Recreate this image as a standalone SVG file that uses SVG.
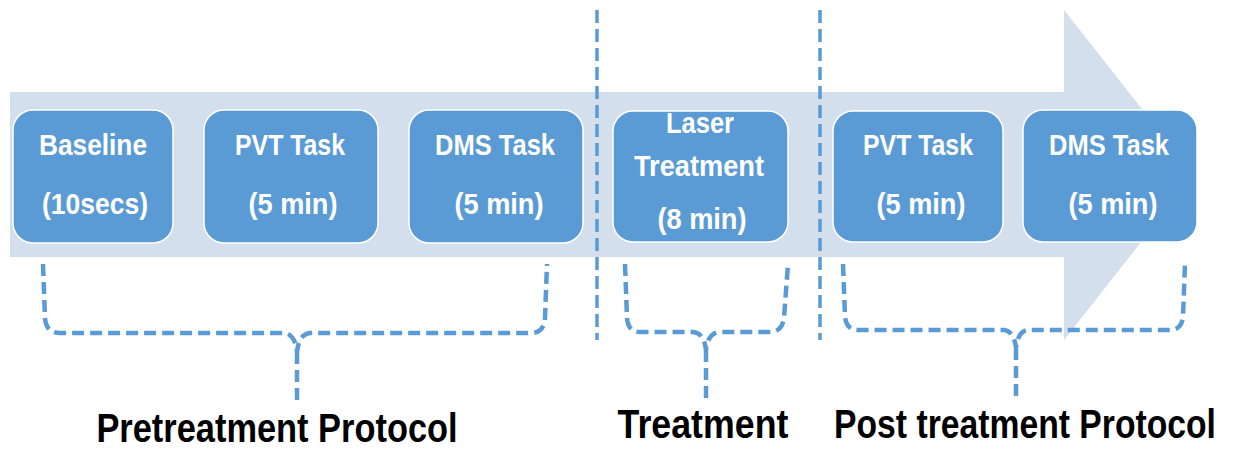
<svg xmlns="http://www.w3.org/2000/svg" width="1234" height="451" viewBox="0 0 1234 451">
  <style>
    .band { fill: #d4dfee; }
    .box { fill: #5b9bd5; stroke: #ffffff; stroke-width: 1.5; }
    .boxtxt { font-family: "Liberation Sans", Arial, sans-serif; font-weight: bold; font-size: 29px; fill: #ffffff; text-anchor: middle; }
    .label { font-family: "Liberation Sans", Arial, sans-serif; font-weight: bold; font-size: 40px; fill: #000000; text-anchor: middle; }
    .divider { fill: none; stroke: #5b9bd5; stroke-width: 3.5; stroke-dasharray: 13 6; }
    .brace { fill: none; stroke: #5b9bd5; stroke-width: 4.5; stroke-dasharray: 12 6; stroke-linejoin: round; }
  </style>

  <!-- timeline arrow -->
  <g id="timeline">
    <rect class="band" x="10" y="92" width="1055" height="165"/>
    <polygon class="band" points="1064,10 1194,175 1064,340"/>
  </g>

  <!-- phase dividers -->
  <g id="dividers">
    <line class="divider" x1="597" y1="10" x2="597" y2="340"/>
    <line class="divider" x1="820" y1="10" x2="820" y2="340"/>
  </g>

  <g id="baseline">
    <rect class="box" x="13" y="110" width="160" height="133" rx="20"/>
    <text class="boxtxt" x="93" y="155" textLength="108" lengthAdjust="spacingAndGlyphs">Baseline</text>
    <text class="boxtxt" x="95" y="214" textLength="106" lengthAdjust="spacingAndGlyphs">(10secs)</text>
  </g>

  <g id="pvt-pre">
    <rect class="box" x="204" y="110" width="174" height="133" rx="20"/>
    <text class="boxtxt" x="290" y="155" textLength="110" lengthAdjust="spacingAndGlyphs">PVT Task</text>
    <text class="boxtxt" x="293" y="214" textLength="89" lengthAdjust="spacingAndGlyphs">(5 min)</text>
  </g>

  <g id="dms-pre">
    <rect class="box" x="409" y="110" width="174" height="133" rx="20"/>
    <text class="boxtxt" x="495" y="155" textLength="120" lengthAdjust="spacingAndGlyphs">DMS Task</text>
    <text class="boxtxt" x="499" y="214" textLength="89" lengthAdjust="spacingAndGlyphs">(5 min)</text>
  </g>

  <g id="laser">
    <rect class="box" x="613" y="111" width="175" height="131" rx="20"/>
    <text class="boxtxt" x="700" y="133" textLength="68" lengthAdjust="spacingAndGlyphs">Laser</text>
    <text class="boxtxt" x="699" y="176" textLength="130" lengthAdjust="spacingAndGlyphs">Treatment</text>
    <text class="boxtxt" x="702" y="229" textLength="89" lengthAdjust="spacingAndGlyphs">(8 min)</text>
  </g>

  <g id="pvt-post">
    <rect class="box" x="833" y="111" width="170" height="131" rx="20"/>
    <text class="boxtxt" x="918" y="155" textLength="110" lengthAdjust="spacingAndGlyphs">PVT Task</text>
    <text class="boxtxt" x="921" y="214" textLength="89" lengthAdjust="spacingAndGlyphs">(5 min)</text>
  </g>

  <g id="dms-post">
    <rect class="box" x="1023" y="110" width="174" height="132" rx="20"/>
    <text class="boxtxt" x="1109" y="155" textLength="120" lengthAdjust="spacingAndGlyphs">DMS Task</text>
    <text class="boxtxt" x="1113" y="214" textLength="89" lengthAdjust="spacingAndGlyphs">(5 min)</text>
  </g>

  <!-- grouping braces -->
  <g id="connectors">
    <path class="brace" d="M43,264 L45,318 Q46,333 60,333 L284,333 Q295,334 297,352 Q299,334 310,333 L531,333 Q544,333 545,318 L547,264 M297,352 L297,405"/>
    <path class="brace" d="M625,264 L627,318 Q628,332 640,332 L693,332 Q704,333 706,350 Q708,333 719,332 L770,332 Q782,332 784,318 L788,264 M706,350 L706,403"/>
    <path class="brace" d="M843,264 L845,316 Q846,330 858,330 L1004,330 Q1014,331 1016,348 Q1018,331 1028,330 L1170,330 Q1182,330 1183,316 L1185,264 M1016,348 L1016,400"/>
  </g>

  <!-- phase labels, horizontally condensed -->
  <g id="phase-labels">
    <text class="label" transform="translate(277,442) scale(0.86,1)" textLength="420" lengthAdjust="spacingAndGlyphs">Pretreatment Protocol</text>
    <text class="label" transform="translate(703,438) scale(0.885,1)" textLength="193" lengthAdjust="spacingAndGlyphs">Treatment</text>
    <text class="label" transform="translate(1025,438) scale(0.843,1)" textLength="453" lengthAdjust="spacingAndGlyphs">Post treatment Protocol</text>
  </g>
</svg>
